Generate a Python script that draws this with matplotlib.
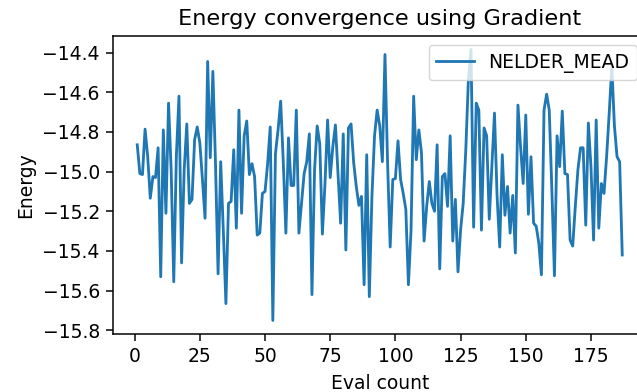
import matplotlib
matplotlib.use("Agg")
import matplotlib.pyplot as plt

eval_count = list(range(1, 188))
energy = [
    -14.865, -15.01, -15.015, -14.786, -14.924, -15.134, -15.025, -15.03, -14.88, -15.53,
    -14.79, -15.21, -14.655, -14.99, -15.555, -14.92, -14.62, -15.46, -14.99, -14.76,
    -15.16, -15.14, -14.84, -14.775, -14.855, -15.04, -15.235, -14.445, -14.93, -14.495,
    -14.955, -15.515, -14.95, -15.295, -15.665, -15.16, -15.15, -14.89, -15.285, -14.69,
    -15.21, -14.82, -14.745, -15.015, -14.96, -15.025, -15.32, -15.31, -15.11, -15.10,
    -14.96, -14.775, -15.75, -14.91, -14.79, -14.645, -14.95, -15.31, -14.83, -15.07,
    -15.07, -14.69, -15.31, -15.16, -15.01, -14.95, -14.81, -15.62, -14.99, -14.77,
    -14.86, -15.315, -15.06, -14.74, -15.03, -14.875, -14.765, -15.01, -15.26, -14.81,
    -15.395, -14.78, -14.76, -14.955, -15.075, -15.17, -15.125, -15.57, -14.915, -15.63,
    -15.125, -14.82, -14.69, -14.77, -14.95, -14.41, -14.955, -15.38, -15.04, -15.035,
    -14.845, -15.04, -15.11, -15.19, -15.57, -15.295, -14.62, -14.94, -14.79, -14.905,
    -15.35, -15.175, -15.05, -15.16, -15.20, -14.865, -15.49, -15.025, -15.01, -15.175,
    -14.82, -15.35, -15.14, -15.505, -15.295, -15.16, -14.89, -14.535, -14.385, -15.28,
    -14.655, -14.69, -15.295, -14.78, -14.82, -15.24, -14.975, -14.705, -15.125, -15.38,
    -14.915, -15.22, -15.075, -15.31, -15.12, -15.41, -14.665, -14.875, -15.06, -14.715,
    -15.215, -14.925, -15.26, -15.275, -15.36, -15.52, -14.69, -14.61, -14.69, -15.09,
    -15.525, -14.82, -14.975, -14.695, -15.01, -15.015, -15.345, -15.375, -15.175, -14.99,
    -14.88, -14.88, -15.27, -14.755, -14.975, -15.345, -14.74, -15.285, -15.06, -15.11,
    -14.925, -14.705, -14.47, -14.77, -14.925, -14.95, -15.42,
]
series_label = "NELDER_MEAD"
title = "Energy convergence using Gradient"
xlabel = "Eval count"
ylabel = "Energy"

s = 1.35
plt.rcParams.update({
    "font.size": 10 * s,
    "axes.linewidth": 0.8 * s,
    "xtick.major.size": 3.5 * s,
    "ytick.major.size": 3.5 * s,
    "xtick.major.width": 0.8 * s,
    "ytick.major.width": 0.8 * s,
    "xtick.major.pad": 3.5 * s,
    "ytick.major.pad": 3.5 * s,
    "legend.fontsize": 10 * s,
    "axes.titlesize": 12 * s,
    "axes.titlepad": 6 * s,
    "axes.labelpad": 4 * s,
})

fig = plt.figure(figsize=(6.37, 3.92), dpi=100)
ax = fig.add_axes([113 / 637, 58 / 392, 533.5 / 637, 298 / 392])
ax.plot(eval_count, energy, color="#1f77b4", linewidth=1.5 * s, label=series_label)
ax.set_title(title)
ax.set_xlabel(xlabel)
ax.set_ylabel(ylabel)
ax.set_xticks([0, 25, 50, 75, 100, 125, 150, 175])
ax.set_yticks([-14.4, -14.6, -14.8, -15.0, -15.2, -15.4, -15.6, -15.8])
ax.legend(loc="upper right")
fig.savefig("out.png", dpi=100)
